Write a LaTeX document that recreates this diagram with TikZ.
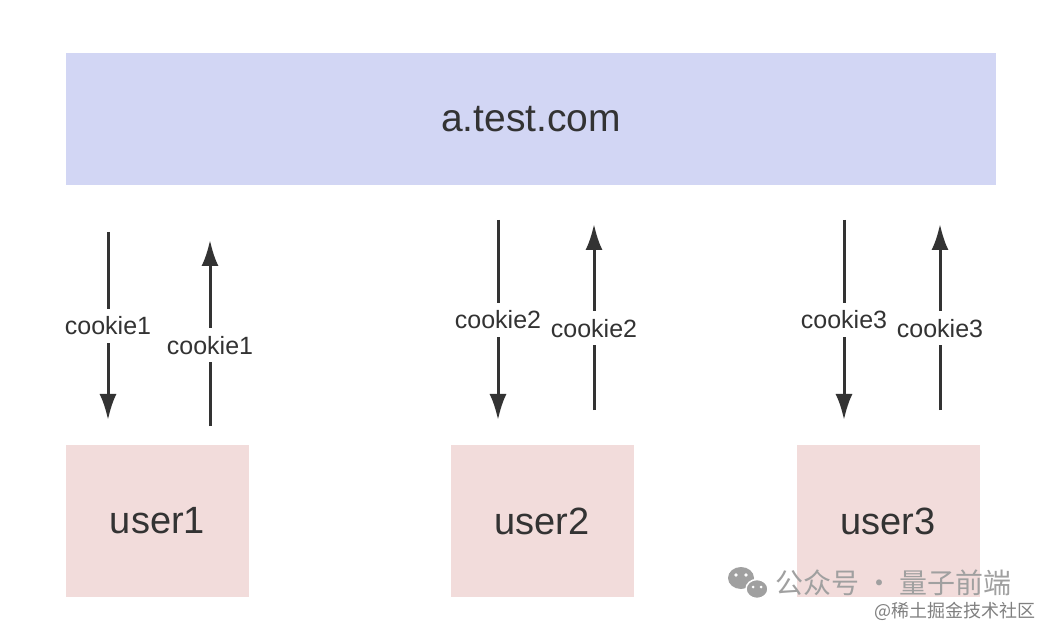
\documentclass[tikz,border=0pt]{standalone}
\usepackage{fontspec}
\setmainfont{Liberation Sans}
\newfontfamily\cjkfont{Noto Sans CJK SC}
\usetikzlibrary{positioning,arrows.meta,calc}

\definecolor{sitefill}{HTML}{D2D6F4}
\definecolor{userfill}{HTML}{F2DCDB}
\definecolor{inkgray}{HTML}{333333}
\definecolor{markgray}{HTML}{A0A0A0}
\definecolor{markdark}{HTML}{808080}

\begin{document}
\begin{tikzpicture}[x=1pt, y=-1pt, >={Latex[length=26pt,width=17pt]}]

\tikzset{
  site/.style={
    rectangle, fill=sitefill, inner sep=0pt,
    minimum width=930pt, minimum height=132pt,
    text=inkgray, font=\fontsize{39}{44}\selectfont
  },
  user/.style={
    rectangle, fill=userfill, inner sep=0pt,
    minimum width=183pt, minimum height=152pt,
    text=inkgray, font=\fontsize{38}{44}\selectfont
  },
  arrow/.style={->, line width=3pt, draw=inkgray},
  lbl/.style={
    fill=white, text=inkgray, inner xsep=1pt, inner ysep=8pt,
    font=\fontsize{25}{28}\selectfont
  },
  wmtext/.style={inner sep=0pt, text=markgray, font=\fontsize{28}{32}\selectfont\cjkfont},
  wmsmall/.style={inner sep=0pt, text=markdark, font=\fontsize{18}{20}\selectfont\cjkfont}
}

\path[fill=white, use as bounding box] (0,0) rectangle (1042,628);

% ==========================
% Servidor y usuarios
% ==========================
\node[site] (site) at (531,119) {a.test.com};
\node[user] (user1) at (157.5,521) {user1};
\node[user] (user2) at (542,521) {user2};
\node[user] (user3) at (888,521) {user3};

% ==========================
% Extremos de las flechas
% ==========================
\coordinate (d1a) at (108,232); \coordinate (d1b) at (108,420);
\coordinate (u1a) at (210,426); \coordinate (u1b) at (210,240);
\coordinate (d2a) at (498,220); \coordinate (d2b) at (498,420);
\coordinate (u2a) at (594,410); \coordinate (u2b) at (594,224);
\coordinate (d3a) at (844,220); \coordinate (d3b) at (844,420);
\coordinate (u3a) at (940,410); \coordinate (u3b) at (940,224);

% Cookies (bajada y subida)
\draw[arrow] (d1a) -- node[lbl] (c1d) {cookie1} (d1b);
\draw[arrow] (u1a) -- node[lbl, pos=0.435] (c1u) {cookie1} (u1b);
\draw[arrow] (d2a) -- node[lbl] (c2d) {cookie2} (d2b);
\draw[arrow] (u2a) -- node[lbl, pos=0.44] (c2u) {cookie2} (u2b);
\draw[arrow] (d3a) -- node[lbl] (c3d) {cookie3} (d3b);
\draw[arrow] (u3a) -- node[lbl, pos=0.44] (c3u) {cookie3} (u3b);

% ==========================
% Marca de agua
% ==========================
\fill[markgray] (741,578) ellipse (13 and 11);
\fill[markgray, draw=white, line width=1.5pt] (757,589) ellipse (11 and 9.5);
\fill[white] (736,575) circle (1.8) (746,575) circle (1.8)
             (753,587) circle (1.5) (761,587) circle (1.5);
\node[wmtext, anchor=west] (wm1) at (775,583) {公众号 · 量子前端};
\node[wmsmall, anchor=east] (wm2) at (1036,611) {@稀土掘金技术社区};

\end{tikzpicture}
\end{document}
